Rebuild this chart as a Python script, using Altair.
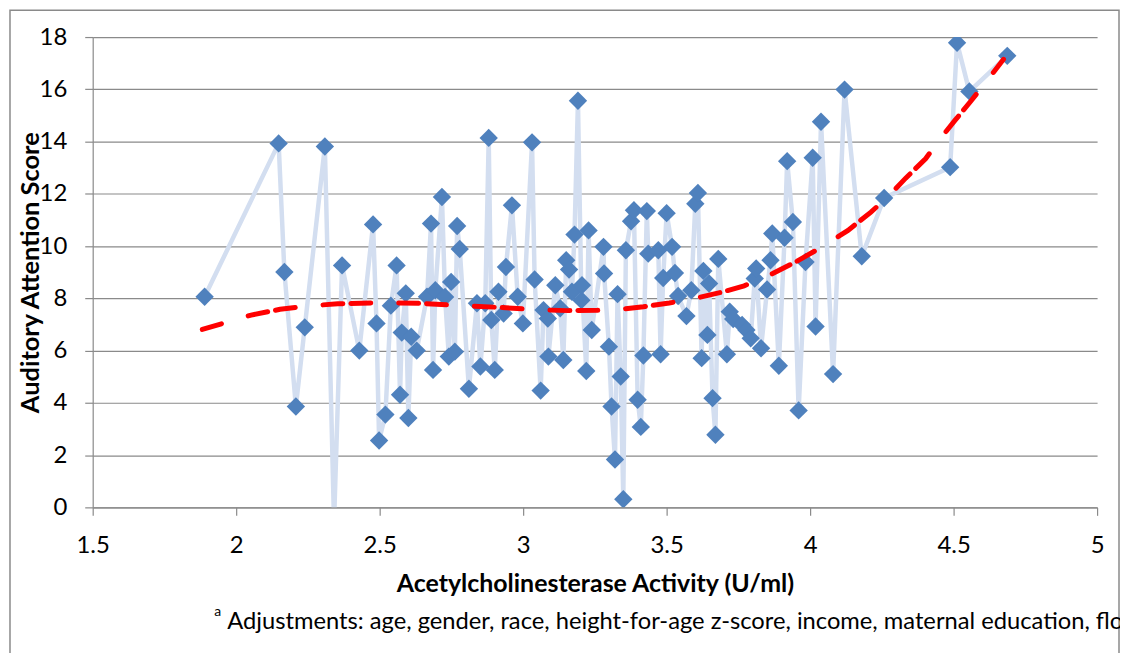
import altair as alt
import pandas as pd

# Acetylcholinesterase activity (U/ml) and auditory attention score
activity = [1.890, 2.148, 2.168, 2.208, 2.239, 2.309, 2.341, 2.369, 2.429, 2.477,
            2.489, 2.498, 2.520, 2.539, 2.559, 2.571, 2.577, 2.591, 2.600, 2.610,
            2.629, 2.665, 2.679, 2.686, 2.694, 2.717, 2.728, 2.741, 2.749, 2.762,
            2.770, 2.779, 2.811, 2.839, 2.851, 2.868, 2.880, 2.889, 2.901, 2.914,
            2.932, 2.940, 2.961, 2.981, 2.999, 3.031, 3.040, 3.061, 3.071, 3.086,
            3.088, 3.112, 3.129, 3.140, 3.150, 3.160, 3.170, 3.179, 3.191, 3.203,
            3.205, 3.220, 3.228, 3.239, 3.280, 3.282, 3.299, 3.308, 3.320, 3.329,
            3.340, 3.349, 3.358, 3.376, 3.386, 3.399, 3.410, 3.419, 3.431, 3.436,
            3.471, 3.479, 3.488, 3.500, 3.519, 3.529, 3.540, 3.569, 3.586, 3.600,
            3.609, 3.622, 3.628, 3.642, 3.648, 3.660, 3.670, 3.680, 3.710, 3.720,
            3.732, 3.763, 3.778, 3.793, 3.807, 3.812, 3.829, 3.850, 3.862, 3.868,
            3.891, 3.911, 3.920, 3.940, 3.960, 3.984, 4.009, 4.019, 4.038, 4.080,
            4.120, 4.180, 4.258, 4.488, 4.512, 4.555, 4.687]
score = [8.06, 13.93, 9.01, 3.86, 6.89, 13.81, -0.6, 9.26, 6.00, 10.83,
         7.04, 2.56, 3.55, 7.72, 9.26, 4.31, 6.69, 8.19, 3.42, 6.53,
         6.00, 8.06, 10.86, 5.26, 8.31, 11.88, 8.05, 5.77, 8.63, 5.96,
         10.77, 9.89, 4.54, 7.81, 5.39, 7.81, 14.14, 7.17, 5.26, 8.25,
         7.42, 9.20, 11.56, 8.06, 7.04, 13.97, 8.72, 4.47, 7.55, 7.23,
         5.77, 8.50, 7.62, 5.64, 9.46, 9.10, 8.25, 10.44, 15.56, 7.93,
         8.50, 5.22, 10.60, 6.79, 9.97, 8.95, 6.15, 3.86, 1.83, 8.16,
         5.01, 0.31, 9.84, 10.95, 11.37, 4.12, 3.08, 5.81, 11.34, 9.71,
         9.84, 5.86, 8.78, 11.26, 9.97, 8.97, 8.09, 7.32, 8.31, 11.62,
         12.03, 5.71, 9.05, 6.60, 8.57, 4.18, 2.78, 9.51, 5.86, 7.49,
         7.21, 6.98, 6.79, 6.47, 8.76, 9.14, 6.09, 8.34, 9.46, 10.48,
         5.42, 10.32, 13.25, 10.92, 3.71, 9.39, 13.38, 6.92, 14.76, 5.10,
         15.99, 9.61, 11.84, 13.02, 17.78, 15.92, 17.28]

# trend line
trend_x = [1.882, 1.962, 2.052, 2.153, 2.253, 2.354, 2.505, 2.635, 2.786, 2.906, 3.057,
           3.157, 3.258, 3.338, 3.419, 3.509, 3.599, 3.690, 3.770, 3.861, 3.951, 4.021,
           4.132, 4.212, 4.272, 4.333, 4.403, 4.453, 4.504, 4.564, 4.614, 4.674]
trend_y = [6.81, 7.07, 7.36, 7.58, 7.71, 7.79, 7.83, 7.81, 7.72, 7.66, 7.56,
           7.53, 7.54, 7.58, 7.68, 7.82, 8.00, 8.23, 8.48, 8.90, 9.40, 9.84,
           10.60, 11.30, 11.90, 12.60, 13.35, 14.10, 14.80, 15.60, 16.30, 17.15]

x_ticks = [1.5, 2, 2.5, 3, 3.5, 4, 4.5, 5]
y_ticks = [0, 2, 4, 6, 8, 10, 12, 14, 16, 18]

x_title = "Acetylcholinesterase Activity (U/ml)"
y_title = "Auditory Attention Score"
footnote = "Adjustments: age, gender, race, height-for-age z-score, income, maternal education, flow"

df = pd.DataFrame({"x": activity, "y": score})
tdf = pd.DataFrame({"x": trend_x, "y": trend_y})

W, H = 1008, 472
FONT = "Lato"
GRAY = "#8a8a8a"

xscale = alt.Scale(domain=[1.5, 5], nice=False, zero=False)
yscale = alt.Scale(domain=[0, 18], nice=False, zero=False)

xaxis = alt.Axis(values=x_ticks, format="~g", grid=False, domainColor=GRAY, domainWidth=1.2,
                 tickColor=GRAY, tickWidth=1.2, tickSize=8, labelPadding=18,
                 labelFont=FONT, labelFontSize=24, labelColor="black", labelFlush=False,
                 title=x_title, titleFont=FONT, titleFontSize=25, titleFontWeight="bold",
                 titleColor="black", titleBaseline="alphabetic", titleY=84)
yaxis = alt.Axis(values=y_ticks, grid=True, gridColor=GRAY, gridWidth=1.2, domainColor=GRAY,
                 domainWidth=1.2, tickColor=GRAY, tickWidth=1.2, tickSize=8, labelPadding=18,
                 labelFont=FONT, labelFontSize=24, labelColor="black",
                 title=y_title, titleFont=FONT, titleFontSize=25.5, titleFontWeight="bold",
                 titleColor="black", titleX=-62, titleY=H / 2, titleAngle=270,
                 titleAlign="center", titleBaseline="middle")

X = alt.X("x:Q", scale=xscale, axis=xaxis)
Y = alt.Y("y:Q", scale=yscale, axis=yaxis)

base = alt.Chart(df)

frame = alt.Chart(pd.DataFrame({"k": [0]})).mark_rect(
    filled=False, stroke="#8a8a8a", strokeWidth=1.5).encode(
    x=alt.value(-83), x2=alt.value(1030), y=alt.value(-27), y2=alt.value(720))

conn = base.mark_line(color="#D3DEF0", strokeWidth=4.5, clip=True).encode(x=X, y=Y)
pts = base.mark_point(shape="diamond", filled=True, size=340, color="#4F81BD",
                      opacity=1, clip=True).encode(x=X, y=Y)
trend = alt.Chart(tdf).mark_line(color="#FF0000", strokeWidth=5, strokeCap="round",
                                 strokeDash=[20, 28, 20, 8]).encode(x="x:Q", y="y:Q")

txt_df = pd.DataFrame({"k": [0]})
sup = alt.Chart(txt_df).mark_text(text="a", font=FONT, fontSize=14, align="left",
                                  baseline="alphabetic", color="black").encode(
    x=alt.value(122), y=alt.value(581))
foot = alt.Chart(txt_df).mark_text(text=footnote, font=FONT, fontSize=23.8, align="left",
                                   baseline="alphabetic", color="black").encode(
    x=alt.value(135), y=alt.value(594))

chart = alt.layer(frame, conn, pts, trend, sup, foot).properties(
    width=W, height=H,
    autosize=alt.AutoSizeParams(type="none"),
    padding={"left": 85, "top": 28, "right": 23, "bottom": 145},
    background="white",
).configure_view(stroke=None)

chart.save("out.html", embed_options={"renderer": "svg", "actions": False})
